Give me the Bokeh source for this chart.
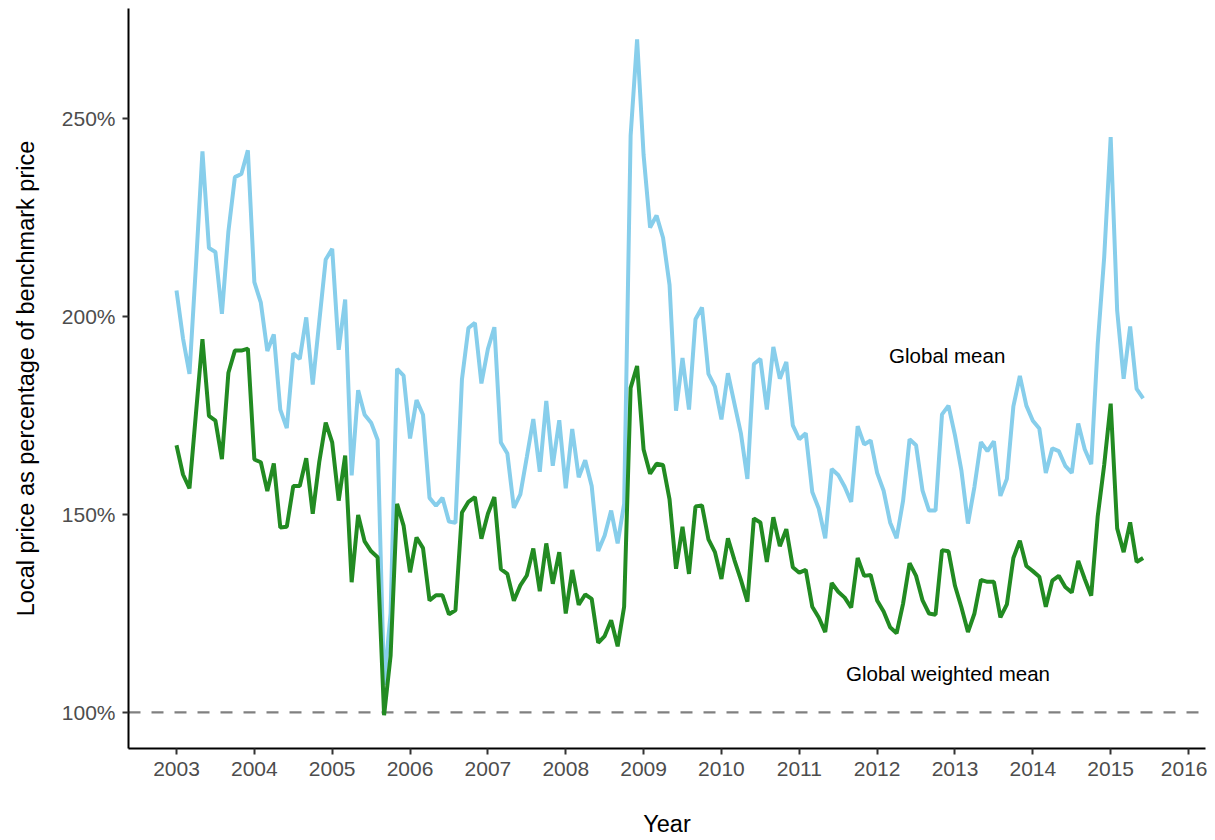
from bokeh.plotting import figure
from bokeh.models import Span, FixedTicker, Range1d
from bokeh.core.properties import value
from bokeh.embed import file_html
from bokeh.resources import INLINE

start_year = 2003
global_mean = [
    206.6, 194.5, 185.5, 213.0, 241.7, 217.3, 216.3, 200.7, 221.5, 235.2, 236.0, 242.0,
    208.7, 203.5, 191.3, 195.5, 176.5, 171.8, 190.7, 189.3, 199.8, 182.8, 198.6, 214.4,
    217.1, 191.6, 204.3, 159.9, 181.4, 175.2, 173.2, 168.9, 107.0, 125.0, 186.8, 185.1,
    169.2, 178.9, 175.2, 154.2, 152.2, 154.2, 148.2, 147.9, 184.1, 197.1, 198.4, 183.1,
    191.8, 197.3, 168.2, 165.4, 151.7, 155.1, 164.5, 174.1, 160.8, 178.7, 162.3, 173.8,
    156.6, 171.6, 159.4, 163.7, 157.2, 140.8, 144.7, 151.0, 142.7, 152.7, 245.6, 270.0,
    240.8, 222.5, 225.5, 219.9, 208.0, 176.2, 189.5, 176.5, 199.3, 202.3, 185.5, 182.3,
    174.0, 185.7, 178.0, 170.5, 159.0, 188.0, 189.3, 176.5, 192.3, 184.3, 188.5, 172.5,
    169.0, 170.5, 155.7, 151.5, 144.0, 161.5, 160.0, 157.0, 153.2, 172.3, 167.7, 168.7,
    160.5, 156.0, 148.0, 144.0, 153.5, 169.0, 167.5, 156.0, 151.0, 151.0, 175.3, 177.5,
    170.0, 161.0, 147.7, 157.0, 168.3, 166.0, 168.5, 154.7, 159.0, 177.3, 185.0, 177.5,
    173.7, 171.7, 160.5, 166.7, 166.0, 162.3, 160.5, 173.0, 166.5, 162.7, 193.0, 215.0,
    245.3, 201.5, 184.3, 197.5, 181.7, 179.3,
]
global_weighted_mean = [
    167.5, 160.1, 156.6, 175.5, 194.3, 174.9, 173.7, 164.0, 185.8, 191.4, 191.4, 191.9,
    163.9, 163.2, 155.9, 162.9, 146.7, 146.9, 157.2, 157.2, 164.2, 150.2, 163.2, 173.2,
    168.2, 153.5, 164.9, 132.9, 149.9, 143.2, 140.7, 139.2, 99.3, 114.3, 152.7, 147.2,
    135.4, 144.2, 141.5, 128.3, 129.6, 129.6, 124.8, 125.8, 150.5, 153.2, 154.4, 143.9,
    150.2, 154.4, 136.2, 135.0, 128.2, 132.1, 134.6, 141.4, 130.6, 142.7, 132.5, 140.5,
    125.0, 136.0, 127.2, 129.8, 128.7, 117.6, 119.3, 123.3, 116.7, 126.7, 182.0, 187.5,
    166.4, 160.3, 162.8, 162.5, 153.8, 136.3, 146.9, 135.0, 152.0, 152.3, 143.7, 140.5,
    133.7, 144.0, 138.5, 133.5, 128.0, 149.0, 148.0, 138.0, 149.3, 142.0, 146.3, 136.7,
    135.3, 136.0, 126.7, 124.0, 120.3, 132.7, 130.5, 129.0, 126.5, 139.0, 134.5, 134.7,
    128.3, 125.5, 121.5, 120.0, 127.5, 137.7, 134.5, 128.3, 125.0, 124.7, 141.0, 140.7,
    132.0, 126.5, 120.3, 125.0, 133.5, 133.0, 133.0, 124.0, 127.3, 139.0, 143.4, 137.0,
    135.7, 134.3, 126.7, 133.3, 134.5, 131.7, 130.3, 138.3, 133.7, 129.5, 149.5, 162.5,
    178.0, 146.5, 140.5, 148.0, 138.0, 139.0,
]
x_ticks = list(range(2003, 2017))
y_ticks = [100, 150, 200, 250]
y_tick_labels = ["100%", "150%", "200%", "250%"]
label_texts = ["Global mean", "Global weighted mean"]
label_x = [2012.90, 2012.91]
label_y = [190.15, 109.85]
benchmark = 100

months = [start_year + i / 12 for i in range(len(global_mean))]

FONT = "Liberation Sans"

p = figure(width=1199, height=832, output_backend="svg", toolbar_location=None,
           x_range=Range1d(2002.3834, 2016.218), y_range=Range1d(90.9, 277.8),
           min_border_left=120, min_border_right=2, min_border_top=0, min_border_bottom=92)
p.outline_line_color = None
p.grid.grid_line_color = None
p.background_fill_color = "white"
p.border_fill_color = "white"

p.add_layout(Span(location=benchmark, dimension="width", line_color="#808080",
                  line_width=2.3, line_dash="12 11", level="underlay"))

p.line(months, global_mean, line_color="#87CEEB", line_width=4)
p.line(months, global_weighted_mean, line_color="#228B22", line_width=4)

p.text(x=label_x, y=label_y, text=label_texts, text_align="center", text_baseline="middle",
       text_font=value(FONT), text_font_size="20.5px", text_color="black")

for ax in (p.xaxis[0], p.yaxis[0]):
    ax.axis_line_color = "black"
    ax.axis_line_width = 2
    ax.major_tick_line_color = "#333333"
    ax.major_tick_line_width = 2
    ax.major_tick_out = 6
    ax.major_tick_in = 0
    ax.minor_tick_line_color = None
    ax.major_label_text_font = FONT
    ax.major_label_text_font_size = "21px"
    ax.major_label_text_color = "#4d4d4d"
    ax.axis_label_text_font = FONT
    ax.axis_label_text_font_size = "23.5px"
    ax.axis_label_text_font_style = "normal"
    ax.axis_label_text_color = "black"

p.xaxis.ticker = FixedTicker(ticks=x_ticks)
p.xaxis.major_label_standoff = 7
p.xaxis.axis_label = "Year"
p.xaxis.axis_label_standoff = 32

p.yaxis.ticker = FixedTicker(ticks=y_ticks)
p.yaxis.major_label_overrides = {t: l for t, l in zip(y_ticks, y_tick_labels)}
p.yaxis.major_label_standoff = 7
p.yaxis.axis_label = "Local price as percentage of benchmark price"
p.yaxis.axis_label_standoff = 20

html = file_html(p, INLINE)
html = html.replace("</head>", "<style>html,body{overflow:hidden;}body{margin:8px;}</style></head>", 1)
open("out.html", "w").write(html)
